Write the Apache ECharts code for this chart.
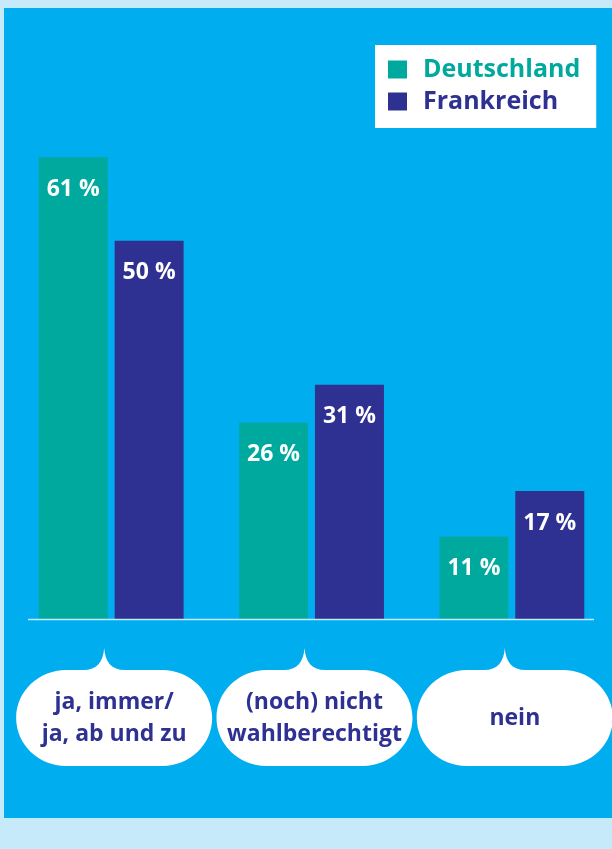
<!DOCTYPE html>
<html>
<head>
<meta charset="utf-8">
<script src="https://cdn.jsdelivr.net/npm/echarts@6/dist/echarts.min.js"></script>
<style>
  html, body { margin: 0; padding: 0; background: #C7EAFA; }
  #wrap { position: relative; width: 612px; height: 849px; overflow: hidden; }
  #panel { position: absolute; left: 4px; top: 8px; width: 608px; height: 810px; background: #00AEEF; }
  #chart { position: absolute; left: 0; top: 0; width: 612px; height: 849px; }
</style>
</head>
<body>
<div id="wrap">
  <div id="panel"></div>
  <div id="chart"></div>
</div>
<script>
// Answer categories and shares (%) per country
const categories = ['ja, immer/\nja, ab und zu', '(noch) nicht\nwahlberechtigt', 'nein'];
const deutschland = [61, 26, 11];
const frankreich = [50, 31, 17];
const seriesNames = ['Deutschland', 'Frankreich'];

const TEAL = '#00A99D';
const NAVY = '#2E3192';
const FONT = '"Open Sans", sans-serif';

const chart = echarts.init(document.getElementById('chart'), null, { renderer: 'canvas' });

// White speech bubble under each category, with a small cusp pointing up to the bars
function bubblePath(cx, tipX, tipY, top, halfW, h) {
  const L = cx - halfW, R = cx + halfW, B = top + h;
  const rx = 50, ry = h / 2, k = 0.5523;
  return [
    'M', tipX, tipY,
    'C', tipX + 1, tipY + 14, tipX + 7, top, tipX + 21, top,
    'L', R - rx, top,
    'C', R - rx + rx * k, top, R, top + ry - ry * k, R, top + ry,
    'C', R, top + ry + ry * k, R - rx + rx * k, B, R - rx, B,
    'L', L + rx, B,
    'C', L + rx - rx * k, B, L, top + ry + ry * k, L, top + ry,
    'C', L, top + ry - ry * k, L + rx - rx * k, top, L + rx, top,
    'L', tipX - 21, top,
    'C', tipX - 7, top, tipX - 1, tipY + 14, tipX, tipY,
    'Z'
  ].join(' ');
}

function renderBubble(params, api) {
  const base = api.coord([api.value(0), 0]);
  const cx = base[0] + 3;
  const tipX = base[0] - 7;
  const tipY = base[1] + 28;
  const top = base[1] + 50;
  const h = 96;
  return {
    type: 'group',
    children: [
      {
        type: 'path',
        shape: { pathData: bubblePath(cx, tipX, tipY, top, 98, h) },
        style: { fill: '#FFFFFF' }
      },
      {
        type: 'text',
        x: cx,
        y: top + h / 2,
        style: {
          text: categories[api.value(0)],
          fill: NAVY,
          fontSize: 23,
          fontWeight: 'bold',
          fontFamily: FONT,
          lineHeight: 32,
          align: 'center',
          verticalAlign: 'middle'
        }
      }
    ]
  };
}

const barLabel = {
  show: true,
  position: 'insideTop',
  distance: 20,
  formatter: '{c} %',
  color: '#FFFFFF',
  fontSize: 23,
  fontWeight: 'bold',
  fontFamily: FONT,
  lineHeight: 24
};

chart.setOption({
  backgroundColor: 'transparent',
  animation: false,
  grid: { left: 11, right: 0, top: 13, bottom: 229 },
  legend: {
    orient: 'vertical',
    left: 375,
    top: 45,
    backgroundColor: '#FFFFFF',
    padding: [12, 16, 14, 13],
    itemWidth: 19,
    itemHeight: 18,
    itemGap: 7,
    icon: 'rect',
    textStyle: { fontSize: 25, fontWeight: 'bold', fontFamily: FONT, padding: [0, 0, 0, 11] },
    data: [
      { name: seriesNames[0], textStyle: { color: TEAL } },
      { name: seriesNames[1], textStyle: { color: NAVY } }
    ]
  },
  xAxis: {
    type: 'category',
    data: categories,
    axisLine: { show: false },
    axisTick: { show: false },
    axisLabel: { show: false }
  },
  yAxis: {
    type: 'value',
    min: 0,
    max: 80,
    show: false,
    splitLine: { show: false }
  },
  graphic: [
    {
      type: 'line',
      shape: { x1: 28, y1: 619.5, x2: 594, y2: 619.5 },
      style: { stroke: '#C5E9F9', lineWidth: 1.5 },
      z: 10
    }
  ],
  series: [
    {
      name: seriesNames[0],
      type: 'bar',
      data: deutschland,
      barWidth: 69,
      barGap: '10%',
      itemStyle: { color: TEAL },
      label: barLabel
    },
    {
      name: seriesNames[1],
      type: 'bar',
      data: frankreich,
      barWidth: 69,
      barGap: '10%',
      itemStyle: { color: NAVY },
      label: barLabel
    },
    {
      name: 'bubbles',
      type: 'custom',
      data: categories.map((c, i) => [i, 0]),
      encode: { x: 0, y: 1 },
      clip: false,
      silent: true,
      renderItem: renderBubble
    }
  ]
});
</script>
</body>
</html>
